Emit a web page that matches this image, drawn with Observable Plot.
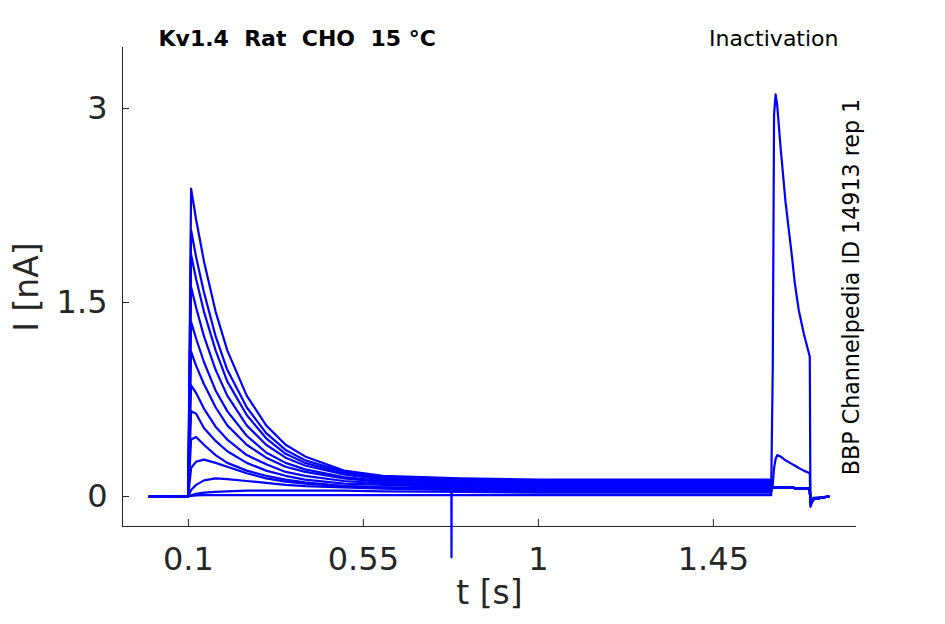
<!DOCTYPE html>
<html>
<head>
<meta charset="utf-8">
<script src="https://cdn.jsdelivr.net/npm/d3@7"></script>
<script src="https://cdn.jsdelivr.net/npm/@observablehq/plot@0.6"></script>
<style>
  html, body { margin: 0; padding: 0; background: #fff; }
  #chart { width: 945px; height: 624px; }
</style>
</head>
<body>
<div id="chart"></div>
<script>
// ---- time samples (s) ----
const tPre  = [0, 0.0995, 0.107, 0.12, 0.14, 0.17, 0.2, 0.25, 0.3, 0.35, 0.4, 0.5, 0.6, 0.8, 1.0, 1.2, 1.4, 1.5985];
const tTest = [1.6027, 1.606, 1.61, 1.614, 1.6225, 1.6354, 1.6526, 1.6593, 1.6696, 1.6824, 1.6979, 1.6995, 1.707, 1.746];

// ---- prepulse currents (nA), one array per sweep ----
const pre01 = [0, 0, 2.38, 2.14, 1.82, 1.43, 1.13, 0.78, 0.55, 0.40, 0.31, 0.20, 0.16, 0.14, 0.13, 0.13, 0.13, 0.13];
const pre02 = [0, 0, 2.06, 1.85, 1.58, 1.24, 0.98, 0.69, 0.49, 0.36, 0.28, 0.19, 0.15, 0.13, 0.12, 0.12, 0.12, 0.12];
const pre03 = [0, 0, 1.87, 1.68, 1.43, 1.13, 0.89, 0.63, 0.45, 0.33, 0.26, 0.18, 0.14, 0.12, 0.11, 0.11, 0.11, 0.11];
const pre04 = [0, 0, 1.62, 1.46, 1.24, 0.98, 0.78, 0.55, 0.40, 0.30, 0.24, 0.17, 0.13, 0.11, 0.10, 0.10, 0.10, 0.10];
const pre05 = [0, 0, 1.35, 1.22, 1.04, 0.82, 0.66, 0.47, 0.34, 0.26, 0.21, 0.15, 0.12, 0.10, 0.09, 0.09, 0.09, 0.09];
const pre06 = [0, 0, 1.12, 1.01, 0.87, 0.69, 0.55, 0.40, 0.30, 0.23, 0.19, 0.14, 0.11, 0.09, 0.08, 0.08, 0.08, 0.08];
const pre07 = [0, 0, 0.86, 0.80, 0.68, 0.54, 0.44, 0.32, 0.25, 0.19, 0.16, 0.12, 0.10, 0.08, 0.07, 0.07, 0.07, 0.07];
const pre08 = [0, 0, 0.66, 0.64, 0.53, 0.43, 0.35, 0.26, 0.20, 0.16, 0.13, 0.10, 0.09, 0.07, 0.06, 0.06, 0.06, 0.06];
const pre09 = [0, 0, 0.44, 0.46, 0.40, 0.32, 0.26, 0.20, 0.16, 0.13, 0.11, 0.08, 0.07, 0.06, 0.05, 0.05, 0.05, 0.05];
const pre10 = [0, 0, 0.22, 0.27, 0.285, 0.26, 0.23, 0.18, 0.14, 0.115, 0.10, 0.08, 0.07, 0.06, 0.05, 0.05, 0.05, 0.05];
const pre11 = [0, 0, 0.05, 0.09, 0.125, 0.14, 0.135, 0.12, 0.105, 0.09, 0.08, 0.07, 0.06, 0.05, 0.04, 0.04, 0.04, 0.04];
const pre12 = [0, 0, 0.01, 0.02, 0.03, 0.035, 0.04, 0.045, 0.045, 0.045, 0.045, 0.045, 0.04, 0.035, 0.03, 0.03, 0.03, 0.03];
const pre13 = [0, 0, 0.005, 0.008, 0.01, 0.01, 0.01, 0.01, 0.01, 0.01, 0.01, 0.01, 0.01, 0.01, 0.01, 0.01, 0.01, 0.01];

// ---- test-pulse currents (nA) ----
const testFlat = [0.07, 0.07, 0.07, 0.07, 0.07, 0.07, 0.07, 0.065, 0.065, 0.065, 0.065, -0.06, -0.02, 0];
const testBump = [0.10, 0.22, 0.29, 0.32, 0.31, 0.28, 0.25, 0.24, 0.22, 0.20, 0.18, -0.05, -0.01, 0];
const testPeak = [1.0, 2.95, 3.11, 3.03, 2.71, 2.28, 1.84, 1.65, 1.44, 1.26, 1.08, -0.08, -0.02, 0];

// ---- recording artifact ----
const spikeT = [0.7762, 0.7766, 0.777];
const spikeI = [0.05, -0.47, 0.05];

// ---- axes ----
const xTicks = [0.1, 0.55, 1, 1.45];
const xTickLabels = ["0.1", "0.55", "1", "1.45"];
const yTicks = [0, 1.5, 3];
const yTickLabels = ["0", "1.5", "3"];
const xDomain = [-0.0694, 1.818];
const yDomain = [-0.232, 3.472];

const titleText = "Kv1.4\u00a0\u00a0Rat\u00a0\u00a0CHO\u00a0\u00a015 °C";
const protocolText = "Inactivation";
const sourceText = "BBP Channelpedia ID 14913 rep 1";
const xLabel = "t [s]";
const yLabel = "I [nA]";

// ---- build rows ----
const sweeps = [
  [pre01, testFlat], [pre02, testFlat], [pre03, testFlat], [pre04, testFlat],
  [pre05, testFlat], [pre06, testFlat], [pre07, testFlat], [pre08, testFlat],
  [pre09, testFlat], [pre10, testFlat], [pre11, testFlat], [pre12, testBump],
  [pre13, testPeak]
];
const rows = [];
sweeps.forEach(([pre, test], k) => {
  tPre.forEach((t, i) => rows.push({sweep: k, t, i: pre[i]}));
  tTest.forEach((t, i) => rows.push({sweep: k, t, i: test[i]}));
});
spikeT.forEach((t, i) => rows.push({sweep: "spike", t, i: spikeI[i]}));

const axisColor = "#262626";
const blue = "#0000ff";

const chart = Plot.plot({
  width: 945,
  height: 624,
  marginLeft: 122,
  marginRight: 89,
  marginTop: 47,
  marginBottom: 98,
  style: {fontFamily: "DejaVu Sans", background: "#fff", color: axisColor, overflow: "visible"},
  x: {domain: xDomain},
  y: {domain: yDomain},
  marks: [
    Plot.ruleX([xDomain[0]], {stroke: axisColor, strokeWidth: 1}),
    Plot.ruleY([yDomain[0]], {stroke: axisColor, strokeWidth: 1}),
    Plot.tickX(xTicks, {x: d => d, insetTop: 472, stroke: axisColor, strokeWidth: 1}),
    Plot.tickY(yTicks, {y: d => d, insetRight: 727, stroke: axisColor, strokeWidth: 1}),
    Plot.axisX({ticks: xTicks, tickSize: 0, tickPadding: 21, fontSize: 32, label: null,
      tickFormat: d => xTickLabels[xTicks.indexOf(d)]}),
    Plot.axisY({ticks: yTicks, tickSize: 0, tickPadding: 15, fontSize: 32, label: null,
      tickFormat: d => yTickLabels[yTicks.indexOf(d)]}),
    Plot.line(rows, {x: "t", y: "i", z: "sweep", stroke: blue, strokeWidth: 2.2,
      strokeLinejoin: "round"}),
    Plot.text([xLabel], {frameAnchor: "bottom", dy: 67, lineAnchor: "middle", textAnchor: "middle",
      fontSize: 33, fill: axisColor}),
    Plot.text([yLabel], {frameAnchor: "left", dx: -95, rotate: -90, lineAnchor: "middle", textAnchor: "middle",
      fontSize: 33, fill: axisColor}),
    Plot.text([titleText], {frameAnchor: "top-left", dx: 36, dy: -2, lineAnchor: "bottom", textAnchor: "start",
      fontSize: 22, fontWeight: "bold", fill: "#000"}),
    Plot.text([protocolText], {frameAnchor: "top-right", dx: -18, dy: -2, lineAnchor: "bottom", textAnchor: "end",
      fontSize: 22, fill: "#000"}),
    Plot.text([sourceText], {frameAnchor: "right", dx: 2, rotate: -90, lineAnchor: "bottom", textAnchor: "middle",
      fontSize: 22.2, fill: "#000"})
  ]
});
document.getElementById("chart").appendChild(chart);
</script>
</body>
</html>
